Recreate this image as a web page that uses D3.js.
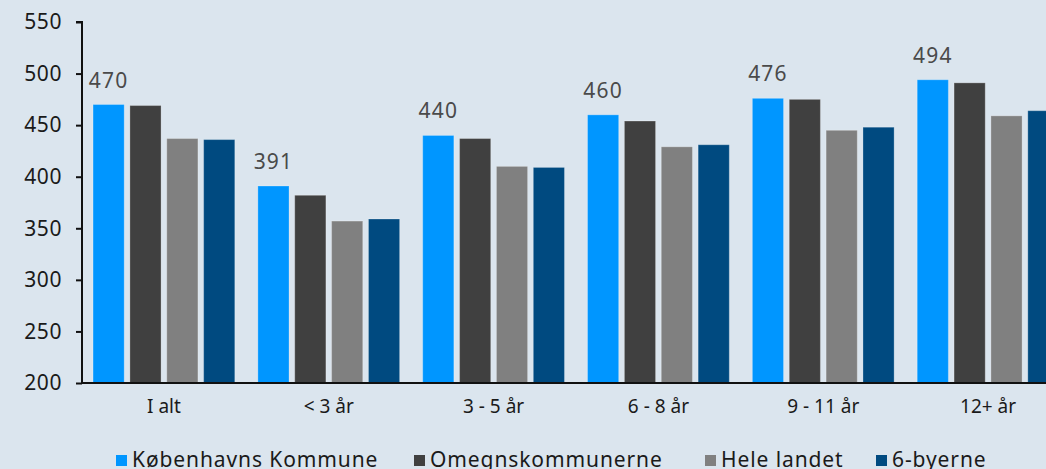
<!DOCTYPE html>
<html><head><meta charset="utf-8">
<script src="https://cdn.jsdelivr.net/npm/d3@7"></script>
<style>
html,body{margin:0;padding:0;background:#dbe5ee;overflow:hidden;}
svg{display:block;font-family:"Noto Sans",sans-serif;}
</style></head><body>
<svg id="chart" width="1046" height="469"></svg>
<script>
const categories = ["I alt", "< 3 år", "3 - 5 år", "6 - 8 år", "9 - 11 år", "12+ år"];
const seriesNames = ["Københavns Kommune", "Omegnskommunerne", "Hele landet", "6-byerne"];
const kbh   = [470, 391, 440, 460, 476, 494];
const omegn = [469, 382, 437, 454, 475, 491];
const hele  = [437, 357, 410, 429, 445, 459];
const seks  = [436, 359, 409, 431, 448, 464];
const yTicks = [200, 250, 300, 350, 400, 450, 500, 550];
const colors = ["#0096ff", "#404040", "#808080", "#004a80"];

const seriesValues = [kbh, omegn, hele, seks];
const svg = d3.select("#chart");
svg.append("rect").attr("width",1046).attr("height",469).attr("fill","#dbe5ee");

const y = d3.scaleLinear().domain([200, 550]).range([383, 22]);
const x0 = d3.scaleBand().domain(categories).range([82, 1070]).paddingInner(0.14).paddingOuter(0.067);
const x1 = d3.scaleBand().domain(d3.range(4)).range([0, x0.bandwidth()]).paddingInner(0.155).paddingOuter(0);

const groups = svg.append("g").selectAll("g").data(categories).join("g")
  .attr("transform", d => `translate(${x0(d)},0)`);

groups.selectAll("rect").data((c, ci) => seriesValues.map((s, si) => ({si, v: s[ci]})))
  .join("rect")
  .attr("x", d => x1(d.si))
  .attr("y", d => y(d.v))
  .attr("width", x1.bandwidth())
  .attr("height", d => y(200) - y(d.v))
  .attr("fill", d => colors[d.si])
  .attr("stroke", "rgba(255,255,255,0.25)")
  .attr("stroke-width", 1);

// value labels for first series
groups.append("text")
  .attr("x", x1(0) + x1.bandwidth()/2)
  .attr("y", (c, ci) => y(kbh[ci]) - 17)
  .attr("text-anchor", "middle")
  .attr("font-size", 21)
  .attr("letter-spacing", 1.2)
  .attr("fill", "#4a4a4a")
  .text((c, ci) => kbh[ci]);

// y axis
const yAxis = d3.axisLeft(y).tickValues(yTicks).tickSize(6).tickPadding(14);
const yg = svg.append("g").attr("transform", "translate(82,0)").call(yAxis);
yg.select(".domain").attr("stroke", "#111").attr("stroke-width", 2).attr("d", `M-6,${y(550)}H0V${y(200)}`);
yg.selectAll(".tick line").attr("stroke", "#111").attr("stroke-width", 2);
yg.selectAll(".tick text").attr("font-size", 21).attr("fill", "#1a1a1a").attr("font-family", "Noto Sans").attr("letter-spacing", 0.6);

// x axis
const xAxis = d3.axisBottom(x0).tickSize(0).tickPadding(17);
const xg = svg.append("g").attr("transform", `translate(0,${y(200)})`).call(xAxis);
xg.select(".domain").attr("stroke", "#111").attr("stroke-width", 2).attr("d", `M82,0H1046`);
xg.selectAll(".tick text").attr("font-size", 19).attr("fill", "#1a1a1a").attr("font-family", "Noto Sans");

// legend
const legendX = [116, 414, 705, 876];
const lg = svg.append("g");
seriesNames.forEach((n, i) => {
  lg.append("rect").attr("x", legendX[i]).attr("y", 455).attr("width", 11).attr("height", 11).attr("fill", colors[i]);
  lg.append("text").attr("x", legendX[i] + 16).attr("y", 467).attr("font-size", 21).attr("letter-spacing", 0.9).attr("fill", "#1a1a1a").text(n);
});
</script>
</body></html>
